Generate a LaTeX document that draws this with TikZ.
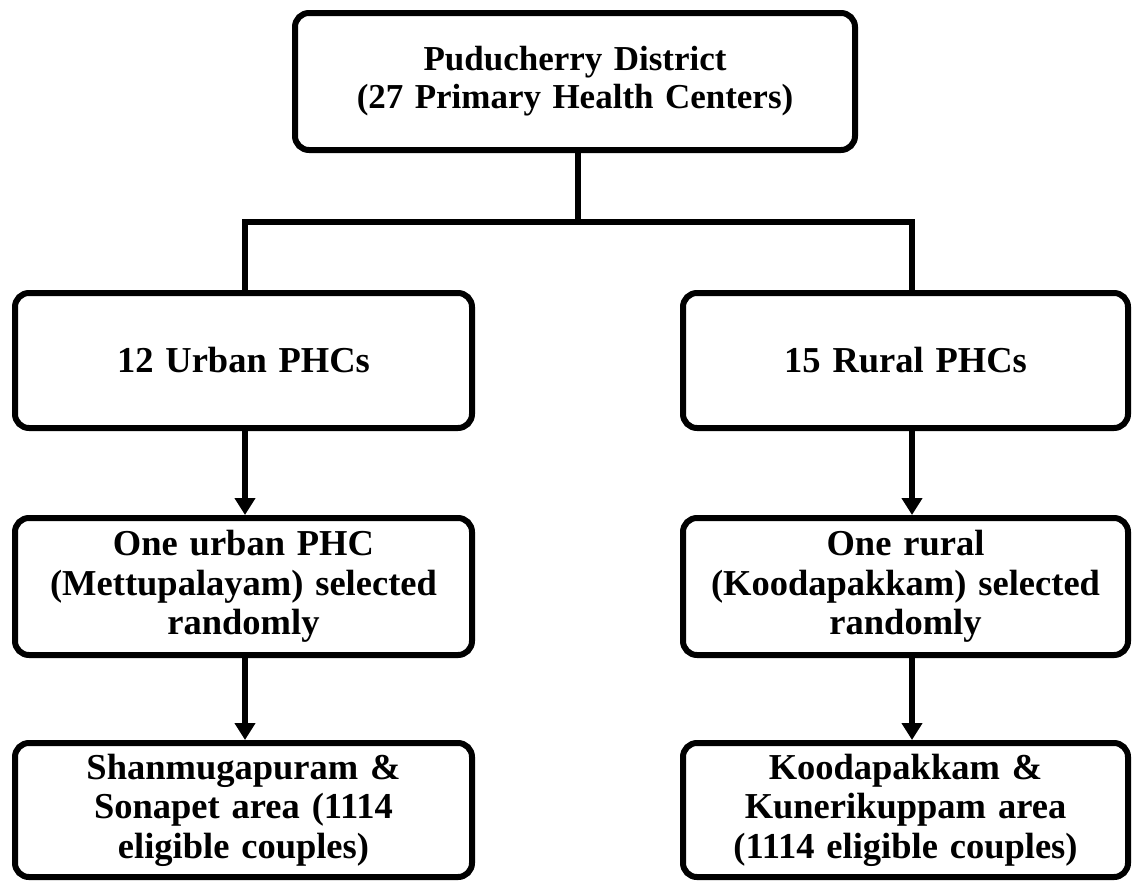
\documentclass[tikz,border=0pt]{standalone}
\usepackage{fontspec}
\setmainfont{Liberation Serif}[WordSpace=1.3]
\usetikzlibrary{arrows.meta}
\begin{document}
\begin{tikzpicture}[x=1pt,y=1pt,
  box/.style={draw=black, line width=6pt, rounded corners=14pt, fill=white,
    align=center, inner sep=0pt,
    font=\fontsize{36.5}{39.5}\selectfont\bfseries},
  topbox/.style={box, font=\fontsize{35}{38}\selectfont\bfseries},
  link/.style={draw=black, line width=6pt},
  arr/.style={link, -{Triangle[length=17pt,width=20pt]}}]
\useasboundingbox (0,0) rectangle (1132,-881);
\node[topbox, minimum width=560pt, minimum height=137pt] (top) at (575,-81.5)
  {Puducherry District\\(27 Primary Health Centers)};
\node[box, minimum width=457pt, minimum height=135pt] (L2) at (243.5,-360.5)
  {12 Urban PHCs};
\node[box, minimum width=445pt, minimum height=135pt] (R2) at (905.5,-360.5)
  {15 Rural PHCs};
\node[box, minimum width=457pt, minimum height=137pt] (L3) at (243.5,-586.5)
  {One urban PHC\\(Mettupalayam) selected\\randomly};
\node[box, minimum width=445pt, minimum height=137pt] (R3) at (905.5,-586.5)
  {One rural\\(Koodapakkam) selected\\randomly};
\node[box, minimum width=457pt, minimum height=134pt] (L4) at (243.5,-810)
  {Shanmugapuram \&\\Sonapet area (1114\\eligible couples)};
\node[box, minimum width=445pt, minimum height=134pt] (R4) at (905.5,-810)
  {Koodapakkam \&\\Kunerikuppam area\\(1114 eligible couples)};
\coordinate (xl) at (245,0);
\coordinate (xr) at (912,0);
\coordinate (xm) at (578,0);
\coordinate (bar) at (0,-222);
\draw[link] (top.south -| xm) -- (bar -| xm);
\draw[link, line join=miter] (L2.north -| xl) -- (bar -| xl) -- (bar -| xr) -- (R2.north -| xr);
\draw[arr] (L2.south -| xl) -- (L3.north -| xl);
\draw[arr] (R2.south -| xr) -- (R3.north -| xr);
\draw[arr] (L3.south -| xl) -- (L4.north -| xl);
\draw[arr] (R3.south -| xr) -- (R4.north -| xr);
\end{tikzpicture}
\end{document}
